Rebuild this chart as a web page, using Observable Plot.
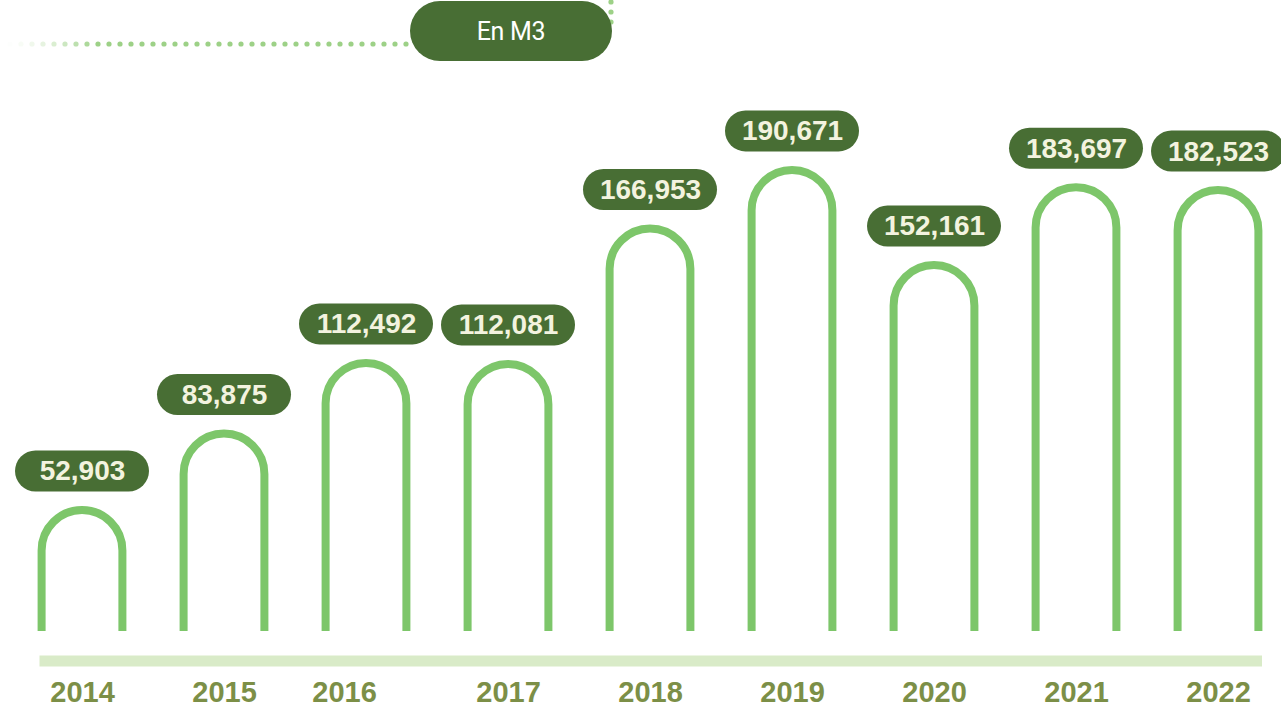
<!DOCTYPE html>
<html>
<head>
<meta charset="utf-8">
<script src="https://cdn.jsdelivr.net/npm/d3@7"></script>
<script src="https://cdn.jsdelivr.net/npm/@observablehq/plot@0.6"></script>
<style>
  html, body { margin: 0; padding: 0; background: #ffffff; overflow: hidden; }
  #wrap { width: 1281px; height: 710px; position: relative; }
  #header { position: relative; width: 1281px; height: 70px; }
  #header svg { position: absolute; left: 0; top: 0; }
  #unit {
    position: absolute; left: 410px; top: 1px; width: 202px; height: 60px;
    border-radius: 30px; background: #486e34; color: #ffffff;
    font-family: Roboto, "Noto Sans", sans-serif; font-size: 25px; font-weight: 400;
    display: flex; align-items: center; justify-content: center; letter-spacing: -0.3px;
  }
</style>
</head>
<body>
<div id="wrap">
  <div id="header"><div id="unit">En M3</div></div>
  <div id="chart"></div>
</div>
<script>
// ---- data ----
const years = ["2014", "2015", "2016", "2017", "2018", "2019", "2020", "2021", "2022"];
const volumes = [52903, 83875, 112492, 112081, 166953, 190671, 152161, 183697, 182523];
const unitLabel = "En M3";

const table = years.map((year, i) => ({year, value: volumes[i]}));
const fmt = d3.format(",");

// ---- decorative dotted line in the header ----
const hdr = d3.select("#header").insert("svg", "#unit")
  .attr("width", 1281).attr("height", 70);
const dotXs = d3.range(10, 407, 11);
hdr.selectAll("circle.h").data(dotXs).join("circle")
  .attr("cx", d => d).attr("cy", 44).attr("r", 2.6)
  .attr("fill", "#9dd187")
  .attr("opacity", d => Math.min(1, Math.pow(Math.max(0, (d - 2) / 95), 1.6)));
hdr.selectAll("circle.v").data([2, 12, 22]).join("circle")
  .attr("cx", 611).attr("cy", d => d).attr("r", 2.6).attr("fill", "#9dd187");
document.getElementById("unit").textContent = unitLabel;

// ---- custom marks drawn through Plot's scales ----
const archStroke = 8;
const legGap = 9.6; // legs stop a little above the zero line

function arches(index, scales) {
  const g = d3.create("svg:g");
  const step = scales.x(years[1]) - scales.x(years[0]);
  const r = step * 0.2845;
  const y0 = scales.y(0) - legGap;
  table.forEach(d => {
    const cx = scales.x(d.year);
    const yt = scales.y(d.value);
    g.append("path")
      .attr("d", `M${cx - r},${y0}L${cx - r},${yt + r}A${r},${r} 0 0 1 ${cx + r},${yt + r}L${cx + r},${y0}`)
      .attr("fill", "none")
      .attr("stroke", "#7dc66a")
      .attr("stroke-width", archStroke);
  });
  return g.node();
}

function pills(index, scales) {
  const g = d3.create("svg:g");
  const w = 134, h = 41, off = 39;
  table.forEach(d => {
    const cx = scales.x(d.year);
    const cy = scales.y(d.value) - off;
    g.append("rect")
      .attr("x", cx - w / 2).attr("y", cy - h / 2)
      .attr("width", w).attr("height", h)
      .attr("rx", h / 2).attr("ry", h / 2)
      .attr("fill", "#486e34");
  });
  return g.node();
}

const numFont = '"Liberation Sans", Arial, Helvetica, sans-serif';

const chart = Plot.plot({
  width: 1281,
  height: 640,
  marginLeft: 80.5,
  marginRight: 61,
  marginTop: 80.6,
  marginBottom: 69.4,
  x: {type: "point", domain: years, padding: 0, axis: null},
  y: {domain: [0, 198500], axis: null},
  style: {fontFamily: numFont, background: "transparent", overflow: "visible"},
  marks: [
    Plot.ruleY([0], {stroke: "#d9ebc8", strokeWidth: 11, dy: 19.9, insetLeft: -41, insetRight: -42}),
    arches,
    pills,
    Plot.text(table, {
      x: "year", y: "value", text: d => fmt(d.value), dy: -39,
      fill: "#f3f3df", fontSize: 28, fontWeight: "bold", fontFamily: numFont
    }),
    Plot.text(table, {
      filter: d => d.year !== "2016",
      x: "year", y: () => 0, text: "year", dy: 51.5,
      fill: "#7c8f47", fontSize: 29, fontWeight: "bold", fontFamily: numFont
    }),
    Plot.text(table, {
      filter: d => d.year === "2016",
      x: "year", y: () => 0, text: "year", dy: 51.5, dx: -22,
      fill: "#7c8f47", fontSize: 29, fontWeight: "bold", fontFamily: numFont
    })
  ]
});
document.getElementById("chart").appendChild(chart);
</script>
</body>
</html>
